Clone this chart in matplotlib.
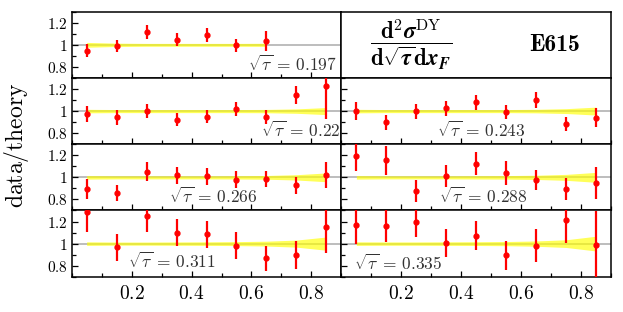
import matplotlib
matplotlib.use("Agg")
import matplotlib.pyplot as plt
from matplotlib.ticker import MultipleLocator, FixedLocator, FuncFormatter

plt.rcParams['mathtext.fontset'] = 'cm'
plt.rcParams['font.family'] = 'serif'

# data/theory ratios vs x_F, E615 Drell-Yan, one panel per sqrt(tau) bin
xF = [0.05, 0.15, 0.25, 0.35, 0.45, 0.55, 0.65, 0.75, 0.85]
xticks = [0.2, 0.4, 0.6, 0.8]

ratio_197 = [0.948, 0.988, 1.118, 1.045, 1.09, 0.994, 1.033]
err_197 = [0.062, 0.056, 0.065, 0.06, 0.06, 0.055, 0.09]
band_197 = [0.022, 0.015, 0.013, 0.013, 0.013, 0.013, 0.014]

ratio_220 = [0.976, 0.942, 1.0, 0.921, 0.948, 1.018, 0.948, 1.145, 1.224]
err_220 = [0.073, 0.065, 0.065, 0.06, 0.058, 0.065, 0.064, 0.083, 0.3]
band_220 = [0.016, 0.014, 0.014, 0.014, 0.014, 0.014, 0.015, 0.02, 0.032]

ratio_243 = [1.0, 0.9, 0.997, 1.024, 1.079, 0.988, 1.103, 0.885, 0.939]
err_243 = [0.083, 0.068, 0.068, 0.071, 0.071, 0.064, 0.074, 0.065, 0.086]
band_243 = [0.016, 0.014, 0.014, 0.014, 0.014, 0.014, 0.016, 0.022, 0.036]

ratio_266 = [0.894, 0.861, 1.052, 1.018, 1.009, 0.979, 0.985, 0.927, 1.021]
err_266 = [0.088, 0.073, 0.086, 0.079, 0.079, 0.074, 0.07, 0.08, 0.118]
band_266 = [0.016, 0.014, 0.014, 0.014, 0.014, 0.015, 0.017, 0.024, 0.04]

ratio_288 = [1.191, 1.155, 0.873, 1.015, 1.124, 1.039, 0.976, 0.894, 0.948]
err_288 = [0.13, 0.13, 0.1, 0.1, 0.106, 0.105, 0.095, 0.1, 0.147]
band_288 = [0.016, 0.014, 0.014, 0.014, 0.015, 0.016, 0.019, 0.027, 0.045]

ratio_311 = [1.288, 0.967, 1.252, 1.1, 1.085, 0.982, 0.867, 0.897, 1.152]
err_311 = [0.18, 0.121, 0.143, 0.121, 0.121, 0.123, 0.115, 0.124, 0.234]
band_311 = [0.016, 0.014, 0.014, 0.015, 0.016, 0.018, 0.022, 0.032, 0.06]

ratio_335 = [1.173, 1.164, 1.2, 1.006, 1.073, 0.894, 0.982, 1.212, 0.985]
err_335 = [0.176, 0.152, 0.142, 0.124, 0.13, 0.13, 0.15, 0.206, 0.31]
band_335 = [0.016, 0.015, 0.015, 0.016, 0.017, 0.019, 0.024, 0.035, 0.067]

tau_labels = ['0.197', '0.22', '0.243', '0.266', '0.288', '0.311', '0.335']
panels = [
    ((0, 0), ratio_197, err_197, band_197),
    ((1, 0), ratio_220, err_220, band_220),
    ((1, 1), ratio_243, err_243, band_243),
    ((2, 0), ratio_266, err_266, band_266),
    ((2, 1), ratio_288, err_288, band_288),
    ((3, 0), ratio_311, err_311, band_311),
    ((3, 1), ratio_335, err_335, band_335),
]
# where the sqrt(tau) label sits in each panel (axes fraction)
label_pos = [(0.985, 0.19, 'right'), (0.997, 0.2, 'right'), (0.52, 0.2, 'center'),
             (0.525, 0.2, 'center'), (0.525, 0.2, 'center'), (0.37, 0.22, 'center'),
             (0.045, 0.2, 'left')]

fig, axes = plt.subplots(4, 2, figsize=(6.23, 3.12), dpi=100)
fig.subplots_adjust(left=0.115, right=0.981, top=0.9625, bottom=0.113, hspace=0, wspace=0)

def tick_fmt(v, pos):
    return '$%g$' % round(v, 2)

for row in range(4):
    for col in range(2):
        ax = axes[row, col]
        ax.set_xlim(0, 0.9)
        ax.set_ylim(0.7, 1.3)
        for s in ax.spines.values():
            s.set_linewidth(1.1)
        if row == 0 and col == 1:
            ax.set_xticks([])
            ax.set_yticks([])
            continue
        ax.xaxis.set_major_locator(FixedLocator(xticks))
        ax.xaxis.set_minor_locator(MultipleLocator(0.1))
        ax.yaxis.set_major_locator(FixedLocator([0.8, 1.0, 1.2]))
        ax.yaxis.set_minor_locator(MultipleLocator(0.1))
        ax.tick_params(which='both', direction='in', top=False, right=False, width=0.9)
        ax.tick_params(which='major', length=4)
        ax.tick_params(which='minor', length=3)
        ax.xaxis.set_major_formatter(FuncFormatter(tick_fmt))
        ax.yaxis.set_major_formatter(FuncFormatter(tick_fmt))
        ax.tick_params(axis='x', labelsize=14, pad=6)
        ax.tick_params(axis='y', labelsize=11, pad=3)
        if row < 3:
            ax.tick_params(axis='x', labelbottom=False)
        if col == 1:
            ax.tick_params(axis='y', labelleft=False)

for (rc, ratio, err, band), lab, (lx, ly, ha) in zip(panels, tau_labels, label_pos):
    ax = axes[rc]
    n = len(ratio)
    x = xF[:n]
    ax.axhline(1.0, color='0.72', lw=1.3, zorder=1)
    lo = [1 - b for b in band]
    hi = [1 + b for b in band]
    ax.fill_between(x, lo, hi, color='#ffff00', alpha=0.65, lw=0, zorder=2)
    ax.errorbar(x, ratio, yerr=err, fmt='o', color='red', ms=3.5, lw=1.6,
                capsize=0, zorder=3, clip_on=True)
    ax.text(lx, ly, r'$\sqrt{\tau}\,=\,%s$' % lab, transform=ax.transAxes,
            ha=ha, va='center', fontsize=12.5, color='0.2')

tax = axes[0, 1]
tax.text(0.26, 0.5, r'$\dfrac{\mathbf{d}^{2}\boldsymbol{\sigma}^{\mathrm{DY}}}{\mathbf{d}\sqrt{\boldsymbol{\tau}}\mathbf{d}\boldsymbol{x}_{\boldsymbol{F}}}$',
         transform=tax.transAxes, ha='center', va='center', fontsize=16.5)
tax.text(0.79, 0.5, 'E615', transform=tax.transAxes, family='cmb10',
         ha='center', va='center', fontsize=17)

fig.text(0.026, 0.535, r'$\mathrm{data/theory}$', rotation=90, ha='center', va='center',
         fontsize=17)

fig.savefig('out.png', dpi=100)
